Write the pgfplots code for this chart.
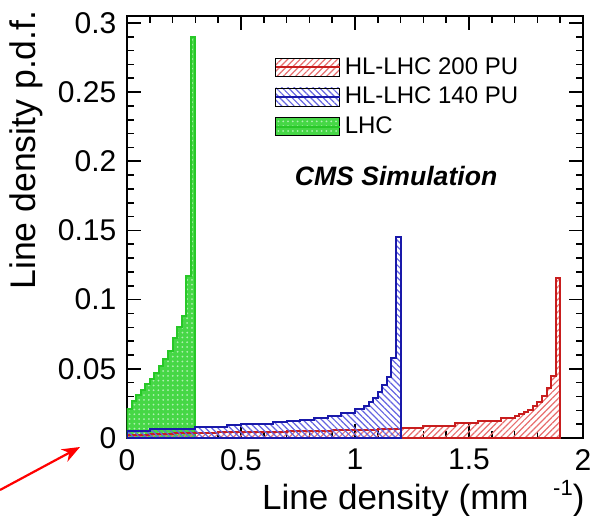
\documentclass[border=0pt]{standalone}
\usepackage{pgfplots}
\pgfplotsset{compat=1.18}
\usepackage{fontspec}
\setmainfont{Liberation Sans}
\usetikzlibrary{patterns.meta,arrows.meta}
\definecolor{edgered}{RGB}{200,30,30}
\definecolor{hatchred}{RGB}{232,110,110}
\definecolor{edgeblue}{RGB}{25,25,170}
\definecolor{hatchblue}{RGB}{100,100,225}
\definecolor{edgegreen}{RGB}{40,200,40}
\definecolor{fillgreen}{RGB}{70,215,70}
\definecolor{dotgreen}{RGB}{175,240,175}
\begin{document}
\begin{tikzpicture}
\begin{axis}[
  at={(0,0)}, anchor=south west,
  scale only axis, width=228pt, height=211pt,
  xmin=0, xmax=2, ymin=0, ymax=0.305,
  xtick={0,0.5,1,1.5,2}, xticklabels={0,0.5,1,1.5,2},
  ytick={0,0.05,0.1,0.15,0.2,0.25,0.3},
  yticklabels={0,0.05,0.1,0.15,0.2,0.25,0.3},
  minor x tick num=4, minor y tick num=4,
  tick align=inside, xtick pos=both, ytick pos=both,
  major tick length=7pt, minor tick length=3.5pt,
  axis line style={line width=0.8pt},
  every tick/.append style={line width=0.8pt, black},
  tick label style={font=\fontsize{15}{17}\selectfont},
  xticklabel style={yshift=-2.0pt},
  yticklabel style={xshift=-1.8pt},
  xlabel={Line density (mm\hspace{0.7em}\raisebox{0.75ex}{\fontsize{11}{12}\selectfont -1})},
  ylabel={Line density p.d.f.},
  xlabel style={font=\fontsize{17.5}{20}\selectfont, at={(axis description cs:1.004,-0.10)}, anchor=north east, inner sep=0pt},
  ylabel style={font=\fontsize{17.8}{20}\selectfont, at={(axis description cs:-0.183,1.014)}, anchor=south east, inner sep=0pt},
  legend style={draw=none, fill=none, at={(axis description cs:0.31,0.922)}, anchor=north west,
    font=\fontsize{12}{14}\selectfont, row sep=1pt},
  legend cell align=left,
]
\addlegendimage{legend image code/.code={
  \path[pattern={Lines[angle=45,distance=2.2pt,line width=0.6pt]},pattern color=hatchred] (0pt,-4.5pt) rectangle (32pt,4.5pt);
  \draw[edgered,line width=1pt] (0pt,0pt)--(32pt,0pt);}}
\addlegendentry{HL-LHC 200 PU}
\addlegendimage{legend image code/.code={
  \path[pattern={Lines[angle=-45,distance=2.2pt,line width=0.6pt]},pattern color=hatchblue] (0pt,-4.5pt) rectangle (32pt,4.5pt);
  \draw[edgeblue,line width=1pt] (0pt,0pt)--(32pt,0pt);}}
\addlegendentry{HL-LHC 140 PU}
\addlegendimage{legend image code/.code={
  \path[fill=fillgreen] (0pt,-4.5pt) rectangle (32pt,4.5pt);
  \path[pattern={Dots[distance=2.4pt,radius=0.5pt]},pattern color=dotgreen] (0pt,-4.5pt) rectangle (32pt,4.5pt);
  \draw[edgegreen,line width=1pt] (0pt,0pt)--(32pt,0pt);}}
\addlegendentry{LHC}

% LHC
\addplot[forget plot, const plot, draw=edgegreen, line width=1pt, fill=fillgreen,
  postaction={pattern={Dots[distance=2.4pt,radius=0.5pt]}, pattern color=dotgreen}]
coordinates {
(0,0.021) (0.02,0.027) (0.04,0.031) (0.06,0.035) (0.08,0.039) (0.10,0.043)
(0.12,0.047) (0.14,0.052) (0.16,0.057) (0.18,0.063) (0.20,0.072) (0.22,0.080)
(0.24,0.088) (0.26,0.117) (0.28,0.290) (0.30,0.290)
} \closedcycle;

% HL-LHC 200 PU
\addplot[forget plot, const plot, draw=edgered, line width=1pt,
  pattern={Lines[angle=45,distance=2.2pt,line width=0.6pt]}, pattern color=hatchred]
coordinates {
(0,0.0025) (0.1,0.003) (0.2,0.0033) (0.3,0.0036) (0.4,0.004) (0.5,0.0043)
(0.6,0.0046) (0.7,0.005) (0.8,0.0053) (0.9,0.0057) (1.0,0.006) (1.1,0.0065)
(1.2,0.0072) (1.3,0.0088) (1.44,0.0105) (1.54,0.0125) (1.64,0.0145) (1.70,0.016)
(1.72,0.017) (1.74,0.0185) (1.76,0.020) (1.78,0.023) (1.80,0.026) (1.82,0.030)
(1.84,0.036) (1.86,0.045) (1.88,0.116) (1.90,0.116)
} \closedcycle;

% HL-LHC 140 PU
\addplot[forget plot, const plot, draw=edgeblue, line width=1pt,
  pattern={Lines[angle=-45,distance=2.2pt,line width=0.6pt]}, pattern color=hatchblue]
coordinates {
(0,0.005) (0.1,0.0068) (0.3,0.008) (0.44,0.0092) (0.5,0.0103) (0.64,0.0113)
(0.70,0.012) (0.76,0.0128) (0.82,0.0145) (0.88,0.016) (0.94,0.018) (1.00,0.021)
(1.04,0.023) (1.06,0.026) (1.08,0.029) (1.10,0.033) (1.12,0.038) (1.14,0.044)
(1.16,0.058) (1.18,0.145) (1.20,0.145)
} \closedcycle;

\node[font=\bfseries\itshape\fontsize{13.3}{16}\selectfont] at (axis description cs:0.590,0.621) {CMS Simulation};
\end{axis}
\draw[red, line width=1.1pt, -{Stealth[length=9pt,width=7pt]}] (-63.5pt,-26pt) -- (-23.5pt,-4.5pt);
\pgfresetboundingbox
\path[use as bounding box] (-63.5pt,-38.5pt) rectangle (233.5pt,219pt);
\end{tikzpicture}
\end{document}
